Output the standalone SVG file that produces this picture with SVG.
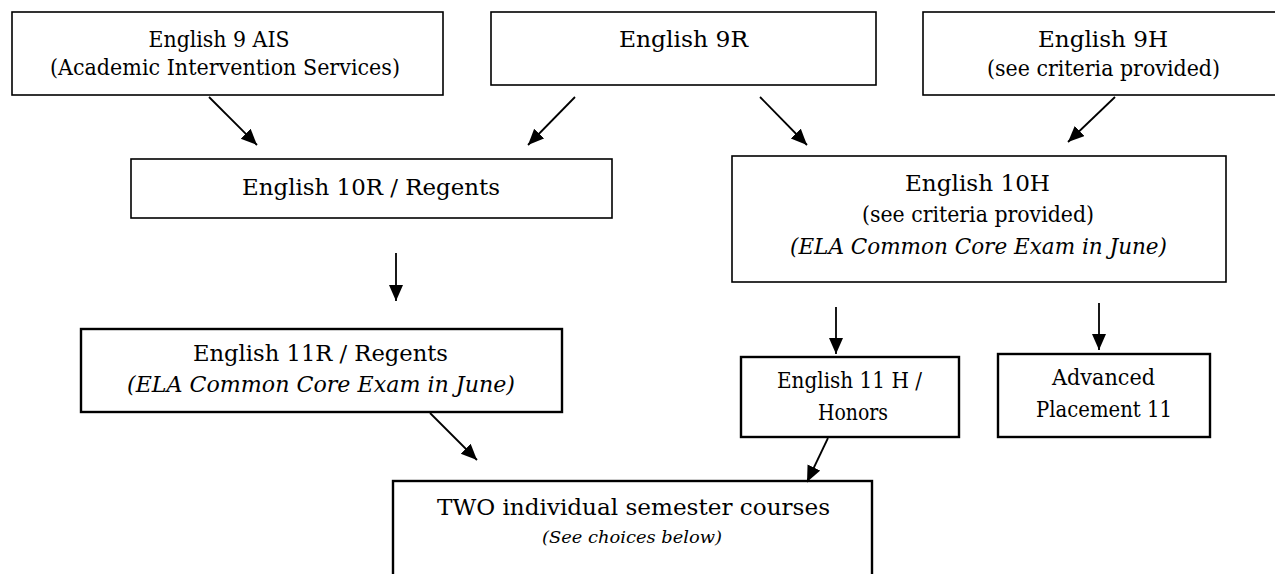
<svg xmlns="http://www.w3.org/2000/svg" width="1275" height="574" viewBox="0 0 1275 574">
<style>
.box{fill:#fff;stroke:#000;stroke-width:1.6}
.thick{stroke-width:2.4}
text{font-family:'DejaVu Serif','Liberation Serif',serif;font-size:22.5px;fill:#000;text-anchor:middle}
.i{font-style:italic}
.s{font-size:17.5px}
.c{stroke:#000;stroke-width:1.8;fill:none;marker-end:url(#ah)}
</style>
<defs>
<marker id="ah" markerUnits="userSpaceOnUse" markerWidth="18" markerHeight="16" viewBox="0 0 18 16" refX="16" refY="7" orient="auto">
<path d="M0,0 L16,7 L0,14 Z" fill="#000"/>
</marker>
</defs>
<rect width="1275" height="574" fill="#fff"/>
<g id="n_ais">
<rect class="box" x="12" y="12" width="431" height="83"/>
<text x="219" y="47" textLength="141" lengthAdjust="spacingAndGlyphs">English 9 AIS</text>
<text x="225" y="75" textLength="350" lengthAdjust="spacingAndGlyphs">(Academic Intervention Services)</text>
</g>
<g id="n_9r">
<rect class="box" x="491" y="12" width="385" height="73"/>
<text x="683.5" y="47" textLength="129" lengthAdjust="spacingAndGlyphs">English 9R</text>
</g>
<g id="n_9h">
<rect class="box" x="923" y="12" width="360" height="83"/>
<text x="1103" y="47" textLength="130" lengthAdjust="spacingAndGlyphs">English 9H</text>
<text x="1103.5" y="76" textLength="233" lengthAdjust="spacingAndGlyphs">(see criteria provided)</text>
</g>
<g id="n_10r">
<rect class="box" x="131" y="159" width="481" height="59"/>
<text x="371" y="195" textLength="258" lengthAdjust="spacingAndGlyphs">English 10R / Regents</text>
</g>
<g id="n_10h">
<rect class="box" x="732" y="156" width="494" height="126"/>
<text x="977.5" y="191" textLength="145" lengthAdjust="spacingAndGlyphs">English 10H</text>
<text x="978" y="222" textLength="232" lengthAdjust="spacingAndGlyphs">(see criteria provided)</text>
<text class="i" x="978.5" y="254" textLength="377" lengthAdjust="spacingAndGlyphs">(ELA Common Core Exam in June)</text>
</g>
<g id="n_11r">
<rect class="box thick" x="81" y="329" width="481" height="83"/>
<text x="320.5" y="361" textLength="255" lengthAdjust="spacingAndGlyphs">English 11R / Regents</text>
<text class="i" x="321" y="392" textLength="388" lengthAdjust="spacingAndGlyphs">(ELA Common Core Exam in June)</text>
</g>
<g id="n_11h">
<rect class="box thick" x="741" y="357" width="218" height="80"/>
<text x="849.5" y="388" textLength="145" lengthAdjust="spacingAndGlyphs">English 11 H /</text>
<text x="853" y="420" textLength="70" lengthAdjust="spacingAndGlyphs">Honors</text>
</g>
<g id="n_ap">
<rect class="box thick" x="998" y="354" width="212" height="83"/>
<text x="1103.5" y="385" textLength="103" lengthAdjust="spacingAndGlyphs">Advanced</text>
<text x="1104" y="417" textLength="136" lengthAdjust="spacingAndGlyphs">Placement 11</text>
</g>
<g id="n_two">
<rect class="box thick" x="393" y="481" width="479" height="110"/>
<text x="633.5" y="515" textLength="393" lengthAdjust="spacingAndGlyphs">TWO individual semester courses</text>
<text class="i s" x="632" y="543" textLength="180" lengthAdjust="spacingAndGlyphs">(See choices below)</text>
</g>
<g id="connectors">
<line class="c" x1="209" y1="97" x2="257" y2="145"/>
<line class="c" x1="575" y1="97" x2="528" y2="145"/>
<line class="c" x1="760" y1="97" x2="807" y2="145"/>
<line class="c" x1="1115" y1="97" x2="1068" y2="142"/>
<line class="c" x1="396" y1="253" x2="396" y2="301"/>
<line class="c" x1="836" y1="307" x2="836" y2="354"/>
<line class="c" x1="1099" y1="303" x2="1099" y2="350"/>
<line class="c" x1="430" y1="413" x2="477" y2="460"/>
<line class="c" x1="828" y1="438" x2="807" y2="482"/>
</g>
</svg>
